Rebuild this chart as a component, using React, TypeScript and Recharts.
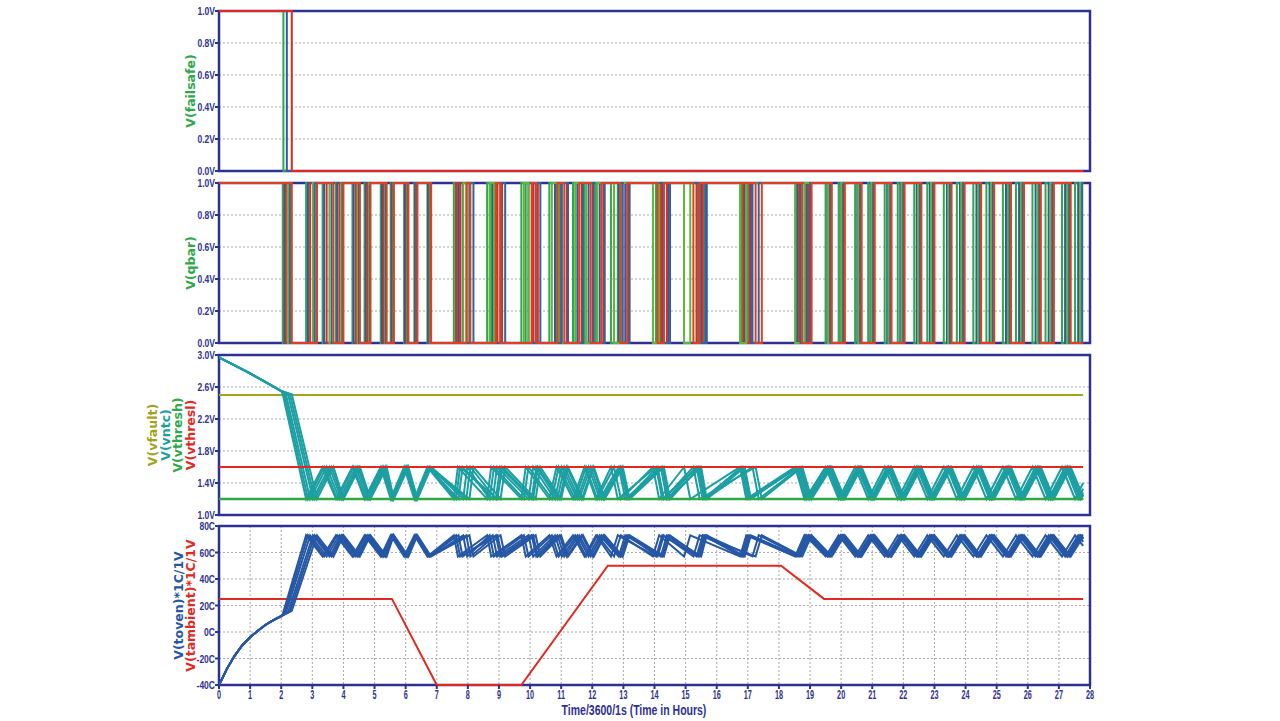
import React from 'react';
import { LineChart, Line, XAxis, YAxis, CartesianGrid, ReferenceArea, Label } from 'recharts';

// ---------- data ----------
const END_T = 27.78;
const X_TICKS = [0, 1, 2, 3, 4, 5, 6, 7, 8, 9, 10, 11, 12, 13, 14, 15, 16, 17, 18, 19, 20, 21, 22, 23, 24, 25, 26, 27, 28];
const Y_TICKS_V1 = [0, 0.2, 0.4, 0.6, 0.8, 1.0];
const Y_TICKS_V3 = [1.0, 1.4, 1.8, 2.2, 2.6, 3.0];
const Y_TICKS_T = [-40, -20, 0, 20, 40, 60, 80];

// failsafe trip times (green, blue, red)
const FAILSAFE_TRIP = [2.07, 2.18, 2.34];

// oven temperature before the controller starts (shared by all runs)
const TOVEN_INIT_T = [0, 0.25, 0.5, 0.75, 1.0, 1.25, 1.5, 1.75, 2.0];
const TOVEN_INIT_V = [-40, -28, -18, -10, -4, 1, 5.5, 9, 12];
const VNTC_INIT_T = [0, 0.5, 1.0, 1.5, 2.0];
const VNTC_INIT_V = [2.97, 2.87, 2.77, 2.66, 2.55];

// switching schedule of each Monte-Carlo run: [heat on, heat off (peak), heat on (trough), ...]
const RUN_A = [2.05, 2.80, 3.33, 3.76, 4.29, 4.68, 5.20, 5.52, 5.95, 6.28, 6.70, 7.55, 7.68, 8.62, 8.75, 9.72, 9.86, 10.62, 10.85, 11.38, 11.75, 12.12, 12.60, 12.82, 14.05, 14.25, 15.40, 15.60, 16.80, 17.00, 18.55, 18.85, 19.50, 19.92, 20.45, 20.87, 21.40, 21.82, 22.35, 22.77, 23.30, 23.72, 24.25, 24.67, 25.20, 25.62, 26.15, 26.57, 27.10, 27.52];
const RUN_B = [2.10, 2.86, 3.38, 3.80, 4.33, 4.72, 5.24, 5.55, 5.98, 6.31, 6.72, 7.70, 7.83, 8.80, 8.94, 9.95, 10.10, 10.80, 11.02, 11.52, 11.88, 12.24, 12.85, 13.06, 14.25, 14.45, 15.50, 15.68, 16.90, 17.10, 18.60, 18.90, 19.56, 19.98, 20.52, 20.94, 21.48, 21.90, 22.43, 22.85, 23.40, 23.82, 24.35, 24.77, 25.30, 25.72, 26.25, 26.67, 27.20, 27.62];
const RUN_C = [2.15, 2.93, 3.46, 3.87, 4.40, 4.77, 5.29, 5.58, 6.02, 6.33, 6.76, 7.62, 7.75, 8.95, 9.10, 10.10, 10.25, 10.95, 11.18, 11.66, 12.02, 12.36, 12.95, 13.16, 14.20, 14.40, 15.35, 15.55, 16.85, 17.05, 18.65, 18.95, 19.62, 20.04, 20.58, 21.00, 21.53, 21.95, 22.50, 22.92, 23.45, 23.87, 24.42, 24.84, 25.37, 25.79, 26.33, 26.75, 27.28, 27.70];
const RUN_D = [2.22, 3.02, 3.55, 3.93, 4.46, 4.82, 5.34, 5.60, 6.05, 6.36, 6.78, 7.85, 7.98, 8.70, 8.84, 9.80, 9.95, 10.70, 10.92, 11.45, 11.80, 12.16, 12.70, 12.92, 13.95, 14.15, 14.95, 15.15, 16.75, 16.95, 18.52, 18.82, 19.58, 20.00, 20.55, 20.97, 21.52, 21.94, 22.47, 22.89, 23.44, 23.86, 24.40, 24.82, 25.36, 25.78, 26.31, 26.73, 27.26, 27.68];
const RUN_E = [2.28, 3.08, 3.62, 3.97, 4.50, 4.85, 5.36, 5.61, 6.07, 6.35, 6.80, 8.05, 8.18, 9.05, 9.20, 10.18, 10.33, 11.00, 11.22, 11.70, 12.05, 12.40, 12.98, 13.20, 14.30, 14.50, 15.45, 15.64, 17.15, 17.35, 18.70, 19.00, 19.66, 20.08, 20.62, 21.04, 21.58, 22.00, 22.54, 22.96, 23.50, 23.92, 24.46, 24.88, 25.42, 25.84, 26.38, 26.80, 27.33, 27.75];
const RUN_F = [2.34, 3.15, 3.68, 4.00, 4.53, 4.87, 5.39, 5.62, 6.09, 6.38, 6.82, 7.95, 8.08, 8.90, 9.04, 10.05, 10.20, 10.88, 11.10, 11.58, 11.95, 12.30, 12.90, 13.12, 14.10, 14.30, 15.25, 15.45, 17.25, 17.45, 18.75, 19.05, 19.70, 20.12, 20.66, 21.08, 21.62, 22.04, 22.58, 23.00, 23.55, 23.97, 24.50, 24.92, 25.46, 25.88, 26.42, 26.84, 27.38];

const RUNS = [RUN_A, RUN_B, RUN_C, RUN_D, RUN_E, RUN_F];
const RUN_TRIP_TEMP = [13.5, 14, 14.5, 15, 15.5, 16];
const RUN_END_TEMP = [65, 68, 71, 70, 72.5, 72];
const RUN_END_VNTC = [1.4, 1.33, 1.25, 1.28, 1.21, 1.23];

const TEMP_PEAK = 73;
const TEMP_TROUGH = 57;
const VNTC_AT_PEAK = 1.2;
const VNTC_AT_TROUGH = 1.6;
const VNTC_TRIP = 2.51;

const AMB_T = [0, 5.56, 7.0, 9.72, 12.5, 18.07, 19.45, END_T];
const AMB_V = [25, 25, -40, -40, 50, 50, 25, 25];

const VFAULT = 2.5;
const VTHRESL = 1.6;
const VTHRESH = 1.2;

// ---------- styles ----------
const NAVY = '#2e3192';
const GRID = '#a8a8a8';
const TICK_FONT = '"Liberation Sans", Arial, sans-serif';
const LABEL_FONT = '"DejaVu Sans", Verdana, sans-serif';
const C_GREEN = '#2fa84a';
const C_BLUE = '#2d59a8';
const C_RED = '#e3281f';
const C_TEAL = '#1c9fa2';
const C_OLIVE = '#a2a21e';
const C_TOVEN = '#2557a5';
const QBAR_COLORS = [C_GREEN, C_BLUE, C_RED, '#5bb73a', '#2a67a0', '#e0401f'];
const FAILSAFE_COLORS = [C_GREEN, C_BLUE, C_RED];

// ---------- build series ----------
const pts = (ts: number[], vs: number[]) => ts.map((t, i) => ({ t, v: vs[i] }));

const tovenSeries = RUNS.map((run, k) => {
  const p = pts(TOVEN_INIT_T, TOVEN_INIT_V);
  p.push({ t: run[0], v: RUN_TRIP_TEMP[k] });
  for (let i = 1; i < run.length; i++) p.push({ t: run[i], v: i % 2 === 1 ? TEMP_PEAK : TEMP_TROUGH });
  p.push({ t: END_T, v: RUN_END_TEMP[k] });
  return p;
});

const vntcSeries = RUNS.map((run, k) => {
  const p = pts(VNTC_INIT_T, VNTC_INIT_V);
  p.push({ t: run[0], v: VNTC_TRIP });
  for (let i = 1; i < run.length; i++) p.push({ t: run[i], v: i % 2 === 1 ? VNTC_AT_PEAK : VNTC_AT_TROUGH });
  p.push({ t: END_T, v: RUN_END_VNTC[k] });
  return p;
});

const qbarSeries = RUNS.map((run) => {
  const p = [{ t: 0, v: 1 }];
  for (let i = 0; i < run.length; i++) p.push({ t: run[i], v: i % 2 === 0 ? 0 : 1 });
  p.push({ t: END_T, v: run.length % 2 === 0 ? 1 : 0 });
  return p;
});

const failsafeSeries = FAILSAFE_TRIP.map((tt) => [
  { t: 0, v: 1 },
  { t: tt, v: 0 },
  { t: END_T, v: 0 },
]);

const ambSeries = pts(AMB_T, AMB_V);
const flat = (v: number) => [{ t: 0, v }, { t: END_T, v }];

// ---------- helpers ----------
type LabelLine = { text: string; color: string; x: number };
const yLabel = (lines: LabelLine[]) => (props: any) => {
  const vb = props.viewBox || { x: 0, y: 0, width: 0, height: 0 };
  const cy = vb.y + vb.height / 2;
  return (
    <g>
      {lines.map((l, i) => (
        <text
          key={i}
          x={l.x}
          y={cy}
          transform={`rotate(-90 ${l.x} ${cy})`}
          textAnchor="middle"
          dominantBaseline="central"
          fill={l.color}
          fontSize={12.5}
          fontWeight="bold"
          fontFamily={LABEL_FONT}
        >
          {l.text}
        </text>
      ))}
    </g>
  );
};

const xTitle = (props: any) => {
  const vb = props.viewBox || { x: 0, y: 0, width: 0, height: 0 };
  const y = vb.y + 25;
  return (
    <text
      transform={`translate(634 ${y}) scale(0.75 1)`}
      textAnchor="middle"
      dominantBaseline="central"
      fill={NAVY}
      fontSize={14}
      fontWeight="bold"
      fontFamily={TICK_FONT}
    >
      Time/3600/1s (Time in Hours)
    </text>
  );
};

const makeYTick = (fmt: (v: number) => string) => (props: any) => {
  const { x, y, payload } = props;
  return (
    <text
      transform={`translate(${x + 2} ${y}) scale(0.74 1)`}
      textAnchor="end"
      dy="0.35em"
      fill={NAVY}
      fontSize={11.5}
      fontWeight="bold"
      fontFamily={TICK_FONT}
    >
      {fmt(payload.value)}
    </text>
  );
};

const XTick = (props: any) => {
  const { x, y, payload } = props;
  return (
    <text
      transform={`translate(${x} ${y - 1}) scale(0.58 1)`}
      textAnchor="middle"
      dy="0.71em"
      fill={NAVY}
      fontSize={12.5}
      fontWeight="bold"
      fontFamily={TICK_FONT}
    >
      {payload.value}
    </text>
  );
};

const fmtV = (v: number) => v.toFixed(1) + 'V';
const fmtC = (v: number) => v + 'C';
const VTick = makeYTick(fmtV);
const CTick = makeYTick(fmtC);

// plot area 160px tall; bottom margin leaves room for the lowest tick label
const MARGIN = { top: 11, right: 190, left: 0, bottom: 12 };
const PANEL_H = 183;

const hiddenX = (
  <XAxis
    type="number"
    dataKey="t"
    domain={[0, 28]}
    ticks={X_TICKS}
    tick={false}
    tickLine={false}
    axisLine={false}
    height={0}
    allowDataOverflow
  />
);

const grid = <CartesianGrid stroke={GRID} strokeDasharray="2 2" strokeWidth={1} />;

const lineCommon = { dot: false, activeDot: false, isAnimationActive: false, strokeWidth: 2, dataKey: 'v' } as const;

export default function App() {
  return (
    <div style={{ position: 'absolute', left: 0, top: 0, width: 1280, height: 721, background: '#fff' }}>
      {/* Panel 1: failsafe */}
      <div style={{ position: 'absolute', left: 0, top: 0 }}>
        <LineChart width={1280} height={PANEL_H} margin={MARGIN}>
          {grid}
          {hiddenX}
          <YAxis
            type="number"
            domain={[0, 1]}
            ticks={Y_TICKS_V1}
            interval={0}
            width={219}
            tick={VTick}
            tickSize={4}
            tickLine={{ stroke: NAVY, strokeWidth: 2 }}
            axisLine={false}
          >
            <Label content={yLabel([{ text: 'V(failsafe)', color: C_GREEN, x: 190 }])} />
          </YAxis>
          <ReferenceArea x1={0} x2={28} y1={0} y2={1} fill="none" stroke={NAVY} strokeWidth={2.5} ifOverflow="visible" />
          {failsafeSeries.map((d, i) => (
            <Line key={'fs' + i} {...lineCommon} data={d} type="stepAfter" stroke={FAILSAFE_COLORS[i]} />
          ))}
        </LineChart>
      </div>

      {/* Panel 2: qbar */}
      <div style={{ position: 'absolute', left: 0, top: 172 }}>
        <LineChart width={1280} height={PANEL_H} margin={MARGIN}>
          {grid}
          {hiddenX}
          <YAxis
            type="number"
            domain={[0, 1]}
            ticks={Y_TICKS_V1}
            interval={0}
            width={219}
            tick={VTick}
            tickSize={4}
            tickLine={{ stroke: NAVY, strokeWidth: 2 }}
            axisLine={false}
          >
            <Label content={yLabel([{ text: 'V(qbar)', color: C_GREEN, x: 190 }])} />
          </YAxis>
          <ReferenceArea x1={0} x2={28} y1={0} y2={1} fill="none" stroke={NAVY} strokeWidth={2.5} ifOverflow="visible" />
          {qbarSeries.map((d, i) => (
            <Line key={'qb' + i} {...lineCommon} data={d} type="stepAfter" stroke={QBAR_COLORS[i]} />
          ))}
        </LineChart>
      </div>

      {/* Panel 3: voltages */}
      <div style={{ position: 'absolute', left: 0, top: 344 }}>
        <LineChart width={1280} height={PANEL_H} margin={MARGIN}>
          {grid}
          {hiddenX}
          <YAxis
            type="number"
            domain={[1, 3]}
            ticks={Y_TICKS_V3}
            interval={0}
            width={219}
            tick={VTick}
            tickSize={4}
            tickLine={{ stroke: NAVY, strokeWidth: 2 }}
            axisLine={false}
          >
            <Label
              content={yLabel([
                { text: 'V(vfault)', color: C_OLIVE, x: 152 },
                { text: 'V(vntc)', color: C_TEAL, x: 165 },
                { text: 'V(vthresh)', color: C_GREEN, x: 177 },
                { text: 'V(vthresl)', color: C_RED, x: 190 },
              ])}
            />
          </YAxis>
          <ReferenceArea x1={0} x2={28} y1={1} y2={3} fill="none" stroke={NAVY} strokeWidth={2.5} ifOverflow="visible" />
          <Line {...lineCommon} data={flat(VFAULT)} type="linear" stroke={C_OLIVE} />
          {vntcSeries.map((d, i) => (
            <Line key={'vn' + i} {...lineCommon} data={d} type="linear" stroke={C_TEAL} />
          ))}
          <Line {...lineCommon} data={flat(VTHRESL)} type="linear" stroke={C_RED} />
          <Line {...lineCommon} data={flat(VTHRESH)} type="linear" stroke={C_GREEN} strokeWidth={2.5} />
        </LineChart>
      </div>

      {/* Panel 4: temperatures */}
      <div style={{ position: 'absolute', left: 0, top: 515 }}>
        <LineChart width={1280} height={206} margin={{ top: 11, right: 190, left: 0, bottom: 0 }}>
          {grid}
          <XAxis
            type="number"
            dataKey="t"
            domain={[0, 28]}
            ticks={X_TICKS}
            tick={XTick}
            tickSize={4}
            tickLine={{ stroke: NAVY, strokeWidth: 2 }}
            axisLine={false}
            height={36}
            interval={0}
            allowDataOverflow
          >
            <Label content={xTitle} />
          </XAxis>
          <YAxis
            type="number"
            domain={[-40, 80]}
            ticks={Y_TICKS_T}
            interval={0}
            width={219}
            tick={CTick}
            tickSize={4}
            tickLine={{ stroke: NAVY, strokeWidth: 2 }}
            axisLine={false}
          >
            <Label
              content={yLabel([
                { text: 'V(toven)*1C/1V', color: C_TOVEN, x: 178 },
                { text: 'V(tambient)*1C/1V', color: C_RED, x: 190 },
              ])}
            />
          </YAxis>
          <ReferenceArea x1={0} x2={28} y1={-40} y2={80} fill="none" stroke={NAVY} strokeWidth={2.5} ifOverflow="visible" />
          <Line {...lineCommon} data={ambSeries} type="linear" stroke={C_RED} />
          {tovenSeries.map((d, i) => (
            <Line key={'tv' + i} {...lineCommon} data={d} type="linear" stroke={C_TOVEN} />
          ))}
        </LineChart>
      </div>
    </div>
  );
}
